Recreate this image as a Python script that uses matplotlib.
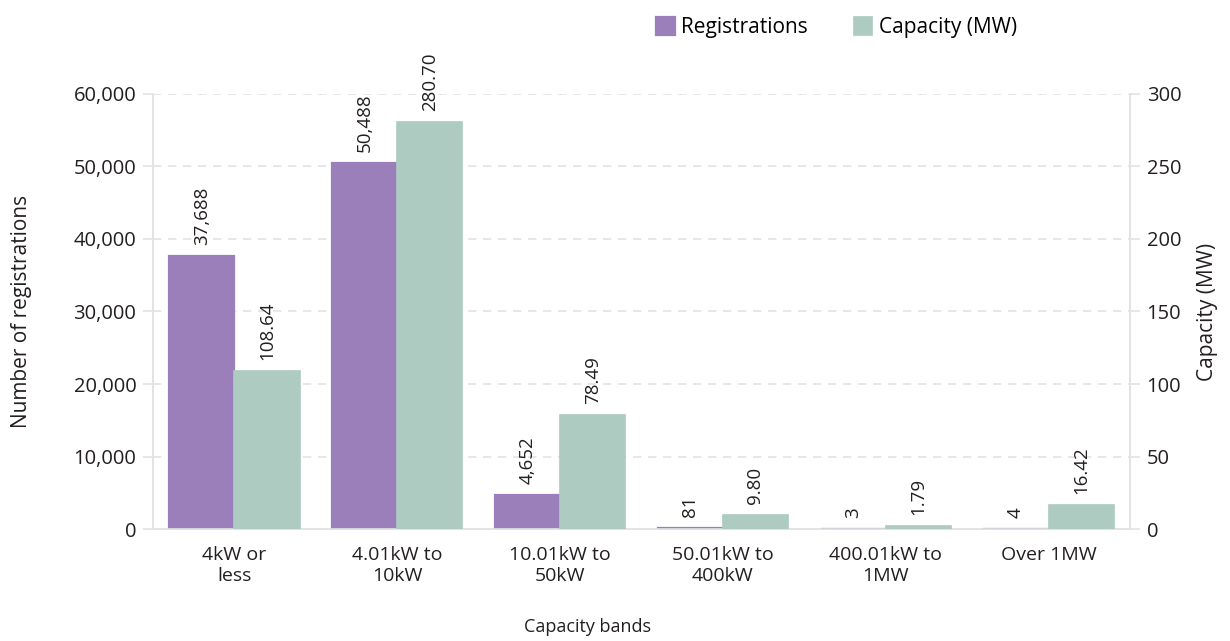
import matplotlib.pyplot as plt
import numpy as np

plt.rcParams['font.family'] = ['Open Sans', 'DejaVu Sans']

bands = ["4kW or\nless", "4.01kW to\n10kW", "10.01kW to\n50kW",
         "50.01kW to\n400kW", "400.01kW to\n1MW", "Over 1MW"]
registrations = [37688, 50488, 4652, 81, 3, 4]
capacity_mw = [108.64, 280.70, 78.49, 9.80, 1.79, 16.42]

purple = '#9b7fba'
green = '#adcbc0'
grey = '#e3e3e3'
txt = '#231f20'

fig = plt.figure(figsize=(12.3, 6.41), dpi=100)
ax = fig.add_axes([0.1244, 0.1747, 0.7943, 0.6787])
ax2 = ax.twinx()

x = np.arange(len(bands))
w = 0.4
# edge line keeps the tiny bars visible above the baseline
b1 = ax.bar(x - w / 2, registrations, w, color=purple, edgecolor=purple,
            linewidth=1.6, zorder=3)
b2 = ax2.bar(x + w / 2, capacity_mw, w, color=green, edgecolor=green,
             linewidth=1.2, zorder=3)

ax.bar_label(b1, labels=[f'{v:,}' for v in registrations], rotation=90,
             padding=8, fontsize=13.5, color=txt)
ax2.bar_label(b2, labels=[f'{v:.2f}' for v in capacity_mw], rotation=90,
              padding=8, fontsize=13.5, color=txt)

ax.set_xlim(-0.5, len(bands) - 0.5)
ax.set_ylim(0, 60000)
ax2.set_ylim(0, 300)
ax.set_yticks(np.arange(0, 60001, 10000))
ax2.set_yticks(np.arange(0, 301, 50))
ax.set_yticklabels([f'{v:,}' for v in range(0, 60001, 10000)])

ax.yaxis.grid(True, color=grey, linestyle=(0, (5, 4)), linewidth=1.2, zorder=0)
ax.set_axisbelow(True)

for a in (ax, ax2):
    a.spines['top'].set_visible(False)
    for s in ('left', 'right', 'bottom'):
        a.spines[s].set_color(grey)
        a.spines[s].set_linewidth(1.2)
        a.spines[s].set_zorder(2)
    a.tick_params(axis='y', colors=txt, labelsize=14.5, length=7, width=1.2,
                  color=grey, pad=5)
ax.tick_params(axis='x', length=0, labelsize=14, colors=txt, pad=12)
ax.set_xticks(x)
ax.set_xticklabels(bands, linespacing=1.25)

ax.set_xlabel('Capacity bands', fontsize=13, color=txt)
ax.xaxis.set_label_coords(0.445, -0.205)
ax.set_ylabel('Number of registrations', fontsize=15, color=txt, labelpad=30)
ax2.set_ylabel('Capacity (MW)', fontsize=15, color=txt, labelpad=11)

fig.legend([b1, b2], ['Registrations', 'Capacity (MW)'], loc='center',
           bbox_to_anchor=(0.68, 0.957), ncol=2, frameon=False, fontsize=15,
           handlelength=0.9, handleheight=0.9, handletextpad=0.3,
           columnspacing=2.2)

fig.savefig('out.png', dpi=100)
